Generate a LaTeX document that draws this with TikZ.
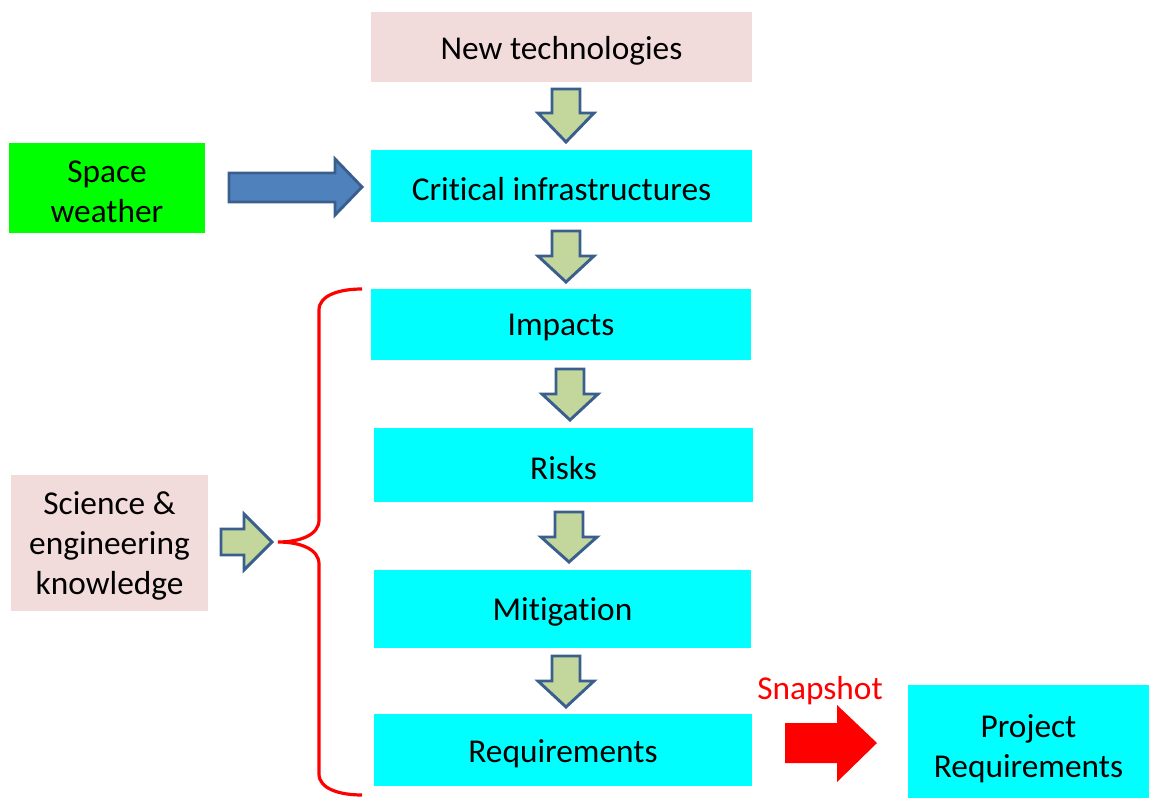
\documentclass[tikz,border=0pt]{standalone}
\usepackage{fontspec}
\setmainfont{Carlito}[Ligatures=NoCommon]
\definecolor{pinkbox}{HTML}{F2DCDB}
\definecolor{cyanbox}{HTML}{00FFFF}
\definecolor{greenbox}{HTML}{00FF00}
\definecolor{arrfill}{HTML}{C3D69B}
\definecolor{arrline}{HTML}{3A5F8E}
\definecolor{bluefill}{HTML}{4F81BD}
\definecolor{redc}{HTML}{FF0000}
\tikzset{
  boxstyle/.style={inner sep=0pt, align=center, font=\fontsize{25}{30}\selectfont},
  pinkstyle/.style={boxstyle, fill=pinkbox},
  cyanstyle/.style={boxstyle, fill=cyanbox},
  greenstyle/.style={boxstyle, fill=greenbox},
  blockarr/.style={fill=arrfill, draw=arrline, line width=2.2pt, line join=miter},
}
\newcommand\mybox[7]{\path[#2] ({#3},{#4}) rectangle ({#5},{#6});
  \node[#2, fill=none, minimum width={(#5-#3)*0.75pt}, minimum height={(#6-#4)*0.75pt}, yshift=-2.5pt] (#1) at ({(#3+#5)/2},{(#4+#6)/2}) {#7};}
% down arrow: center x, top y, bottom y, head start y
\newcommand\downarr[4]{\draw[blockarr] ({#1-14},#2) -- ({#1+14},#2) -- ({#1+14},#4) -- ({#1+28},#4) -- (#1,#3) -- ({#1-28},#4) -- ({#1-14},#4) -- cycle;}
\begin{document}
\begin{tikzpicture}[x=0.75pt,y=-0.75pt]
\useasboundingbox (0,0) rectangle (1149,798);
\mybox{nt}{pinkstyle}{371}{12}{752}{82}{New technologies}
\mybox{ci}{cyanstyle}{371}{150}{752}{222}{Critical infrastructures}
\mybox{sw}{greenstyle}{9}{143}{205}{233}{Space\\weather}
\mybox{im}{cyanstyle}{371}{289}{751}{360}{Impacts}
\mybox{ri}{cyanstyle}{374}{428}{753}{502}{Risks}
\mybox{mi}{cyanstyle}{374}{570}{751}{648}{Mitigation}
\mybox{rq}{cyanstyle}{374}{714}{752}{786}{Requirements}
\mybox{se}{pinkstyle}{11}{475}{208}{611}{Science \&\\engineering\\knowledge}
\mybox{pr}{cyanstyle}{908}{685}{1149}{805}{Project\\Requirements}
% down arrows
\downarr{566}{89}{142}{113}
\downarr{566}{231}{282}{256}
\downarr{570}{369}{420}{394}
\downarr{569}{512}{562}{537}
\downarr{566}{656}{707}{681}
% blue arrow
\draw[fill=bluefill, draw=arrline, line width=2.2pt] (229,173) -- (335,173) -- (335,159) -- (362,187) -- (335,215) -- (335,202) -- (229,202) -- cycle;
% small green arrow
\draw[blockarr] (221,529) -- (244,529) -- (244,514) -- (272,542) -- (244,570) -- (244,555) -- (221,555) -- cycle;
% brace
\draw[redc, line width=2.4pt] (362,289) .. controls (340,289) and (319,295) .. (319,310) -- (319,520) .. controls (319,535) and (300,542) .. (278,542) .. controls (300,542) and (319,549) .. (319,564) -- (319,774) .. controls (319,789) and (340,795) .. (362,795);
% red arrow
\fill[redc] (785,723) -- (837,723) -- (837,705) -- (877,743) -- (837,782) -- (837,763) -- (785,763) -- cycle;
\node[text=redc, font=\fontsize{25}{30}\selectfont, inner sep=0pt] (snap) at (820,691) {Snapshot};
\end{tikzpicture}
\end{document}
